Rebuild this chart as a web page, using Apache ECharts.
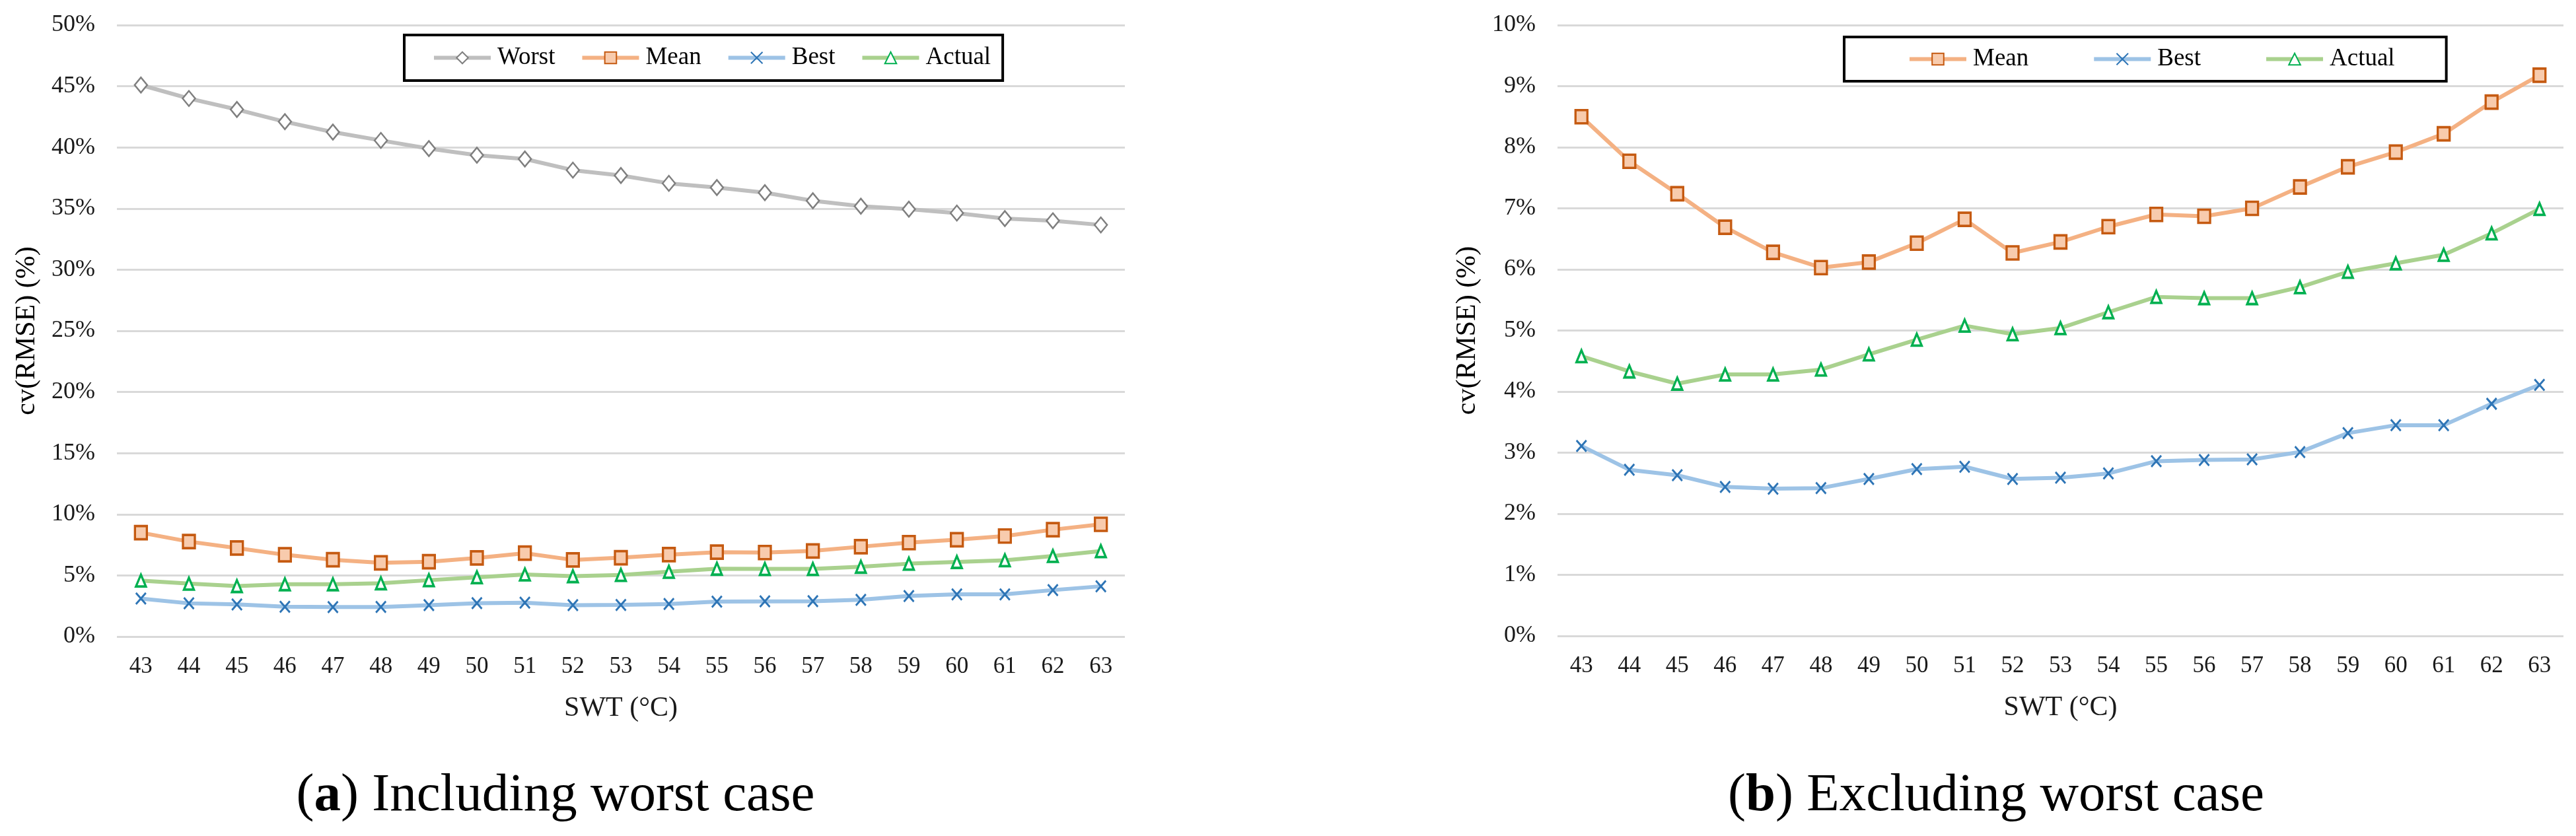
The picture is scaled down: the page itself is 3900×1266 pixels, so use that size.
<!DOCTYPE html>
<html>
<head>
<meta charset="utf-8">
<script src="https://cdn.jsdelivr.net/npm/echarts@6/dist/echarts.min.js"></script>
<style>
html,body{margin:0;padding:0;background:#fff;}
#c{width:3900px;height:1266px;}
</style>
</head>
<body>
<div id="c"></div>
<script>
const categories = ['43','44','45','46','47','48','49','50','51','52','53','54','55','56','57','58','59','60','61','62','63'];
const worst  = [45.1, 44.0, 43.1, 42.1, 41.25, 40.57, 39.9, 39.36, 39.05, 38.14, 37.7, 37.06, 36.72, 36.3, 35.64, 35.19, 34.95, 34.63, 34.18, 34.0, 33.66];
const mean   = [8.50, 7.77, 7.24, 6.69, 6.28, 6.03, 6.12, 6.43, 6.82, 6.27, 6.45, 6.70, 6.90, 6.87, 7.00, 7.35, 7.68, 7.92, 8.22, 8.74, 9.18];
const best   = [3.11, 2.72, 2.63, 2.44, 2.41, 2.42, 2.57, 2.73, 2.77, 2.57, 2.59, 2.66, 2.86, 2.88, 2.89, 3.01, 3.32, 3.45, 3.45, 3.80, 4.11];
const actual = [4.58, 4.33, 4.13, 4.28, 4.28, 4.36, 4.61, 4.85, 5.08, 4.94, 5.04, 5.30, 5.55, 5.53, 5.53, 5.71, 5.96, 6.10, 6.24, 6.59, 6.99];
const xTitle = 'SWT (°C)';
const yTitle = 'cv(RMSE) (%)';
const captionA = ['a', ' Including worst case'];
const captionB = ['b', ' Excluding worst case'];

const FONT = "'Liberation Serif','Times New Roman',serif";
const xMark = 'path://M0,0L10,10M10,0L0,10';

function seriesDefs(idx, withWorst){
  const s = [];
  if (withWorst) s.push({name:'Worst', data:worst, symbol:'diamond', symbolSize:[19,23],
    lineStyle:{color:'#BFBFBF', width:6}, itemStyle:{color:'#ffffff', borderColor:'#7F7F7F', borderWidth:2.5}});
  s.push({name:'Mean', data:mean, symbol:'rect', symbolSize:[18,20],
    lineStyle:{color:'#F4B183', width:6}, itemStyle:{color:'#F8CBAD', borderColor:'#C55A11', borderWidth:3.5}});
  s.push({name:'Best', data:best, symbol:xMark, symbolSize:[15,17],
    lineStyle:{color:'#9DC3E6', width:6}, itemStyle:{color:'#2E75B6', borderColor:'#2E75B6', borderWidth:3}});
  s.push({name:'Actual', data:actual, symbol:'triangle', symbolSize:[15,18],
    lineStyle:{color:'#A9D18E', width:6}, itemStyle:{color:'#ffffff', borderColor:'#00B050', borderWidth:3.5}});
  return s.map(o => Object.assign({type:'line', xAxisIndex:idx, yAxisIndex:idx, showSymbol:true, z: 3}, o));
}

function xAxisDef(idx){
  return {type:'category', gridIndex:idx, data:categories, boundaryGap:true,
    axisLine:{show:false}, axisTick:{show:false},
    axisLabel:{fontFamily:FONT, fontSize:35, color:'#1a1a1a', margin:28},
    name:xTitle, nameLocation:'middle', nameGap:88,
    nameTextStyle:{fontFamily:FONT, fontSize:42, color:'#1a1a1a'}};
}
function yAxisDef(idx, max, interval){
  return {type:'value', gridIndex:idx, min:0, max:max, interval:interval,
    axisLine:{show:false}, axisTick:{show:false},
    axisLabel:{fontFamily:FONT, fontSize:36, color:'#1a1a1a', margin:33, formatter:'{value}%'},
    splitLine:{lineStyle:{color:'#D9D9D9', width:3}},
    name:yTitle, nameLocation:'middle', nameGap:115,
    nameTextStyle:{fontFamily:FONT, fontSize:42, color:'#000'}};
}
function legendDef(idx, names, left, top, gap, pad){
  return {show:true, data:names, left:left, top:top, orient:'horizontal',
    itemWidth:86, itemHeight:22, itemGap:gap, padding:pad,
    borderColor:'#000', borderWidth:4, backgroundColor:'#fff',
    lineStyle:{width:6},
    textStyle:{fontFamily:FONT, fontSize:37, color:'#000', padding:[0,0,0,5]}};
}

const chart = echarts.init(document.getElementById('c'), null, {renderer:'canvas'});
chart.setOption({
  animation:false,
  backgroundColor:'#ffffff',
  grid:[
    {left:177, top:38, width:1526, height:926},
    {left:2358, top:38, width:1523, height:925}
  ],
  xAxis:[xAxisDef(0), xAxisDef(1)],
  yAxis:[yAxisDef(0, 50, 5), yAxisDef(1, 10, 1)],
  legend:[
    legendDef(0, ['Worst','Mean','Best','Actual'], 612, 53, 38, [16,18,16,42]),
    legendDef(1, ['Mean','Best','Actual'], 2792, 56, 96, [15,78,15,96])
  ],
  series: seriesDefs(0, true).concat(seriesDefs(1, false)),
  graphic:[
    {type:'text', x:841, y:1206, style:{text:'{n|(}{b|'+captionA[0]+'}{n|)'+captionA[1]+'}', align:'center', verticalAlign:'middle',
      rich:{n:{fontFamily:FONT, fontSize:81, fill:'#000'}, b:{fontFamily:FONT, fontSize:81, fontWeight:'bold', fill:'#000'}}}},
    {type:'text', x:3022, y:1206, style:{text:'{n|(}{b|'+captionB[0]+'}{n|)'+captionB[1]+'}', align:'center', verticalAlign:'middle',
      rich:{n:{fontFamily:FONT, fontSize:81, fill:'#000'}, b:{fontFamily:FONT, fontSize:81, fontWeight:'bold', fill:'#000'}}}}
  ]
});
</script>
</body>
</html>
